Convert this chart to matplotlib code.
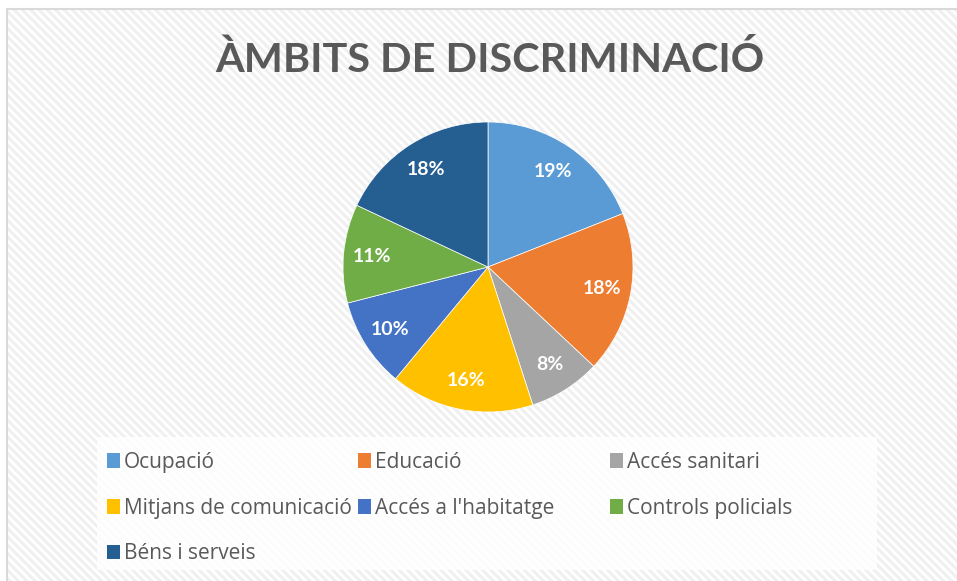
import matplotlib.pyplot as plt
from matplotlib.patches import Rectangle, Patch

# Data
categories = ["Ocupació", "Educació", "Accés sanitari", "Mitjans de comunicació",
              "Accés a l'habitatge", "Controls policials", "Béns i serveis"]
values = [19, 18, 8, 16, 10, 11, 18]
colors = ["#5b9bd5", "#ed7d31", "#a5a5a5", "#ffc000", "#4472c4", "#70ad47", "#255e91"]
title = "ÀMBITS DE DISCRIMINACIÓ"

W, H = 957, 581
fig = plt.figure(figsize=(W / 100, H / 100), dpi=100)
fig.patch.set_facecolor("white")

# Striped chart background with light border (right/bottom edges are cut off)
plt.rcParams["hatch.linewidth"] = 2.0
bg = Rectangle((7 / W, 0), 1 - 7 / W, 1 - 9 / H, transform=fig.transFigure,
               facecolor="#f0f0f0", edgecolor="white", hatch="\\\\\\\\", lw=0, zorder=0)
fig.patches.append(bg)
border = Rectangle((7 / W, -0.05), 1.1, 1 - 9 / H + 0.05, transform=fig.transFigure,
                   facecolor="none", edgecolor="#d9d9d9", lw=1.5, zorder=1)
fig.patches.append(border)

# Legend box
lbox = Rectangle((97 / W, 1 - 570 / H), 780 / W, 133 / H, transform=fig.transFigure,
                 facecolor="white", edgecolor="none", alpha=0.85, zorder=1)
fig.patches.append(lbox)

# Title
fig.text(490 / W, 1 - 60 / H, title, ha="center", va="center", fontsize=29.8,
         fontweight="bold", color="#595959", family="Lato")

# Pie
cx, cy, r = 488, 267, 145
ax = fig.add_axes([(cx - r) / W, (H - cy - r) / H, 2 * r / W, 2 * r / H])
ax.set_zorder(3)
ax.set_facecolor("none")
wedges, texts, autotexts = ax.pie(values, colors=colors, startangle=90, counterclock=False,
                                  autopct="%1.0f%%", pctdistance=0.8,
                                  wedgeprops=dict(edgecolor="white", linewidth=0.5))
for t in autotexts:
    t.set_color("white")
    t.set_fontsize(14)
    t.set_fontweight("bold")
    t.set_family("Lato")
ax.set_xlim(-1, 1)
ax.set_ylim(-1, 1)
ax.set_aspect("equal")

# Legend: three equal-width columns, filled row by row
col_x = [107, 358, 610]
for col, x in enumerate(col_x):
    idx = list(range(col, len(categories), 3))
    handles = [Patch(facecolor=colors[i], edgecolor="none") for i in idx]
    labels = [categories[i] for i in idx]
    leg = fig.legend(handles, labels, loc="upper left",
                     bbox_to_anchor=(x / W, 1 - 452 / H), frameon=False,
                     handlelength=0.6, handleheight=0.7, handletextpad=0.2,
                     labelspacing=1.18, borderaxespad=0, borderpad=0,
                     prop={"family": "Open Sans", "size": 15})
    leg.set_zorder(4)
    for t in leg.get_texts():
        t.set_color("#595959")

fig.savefig("out.png", dpi=100)
